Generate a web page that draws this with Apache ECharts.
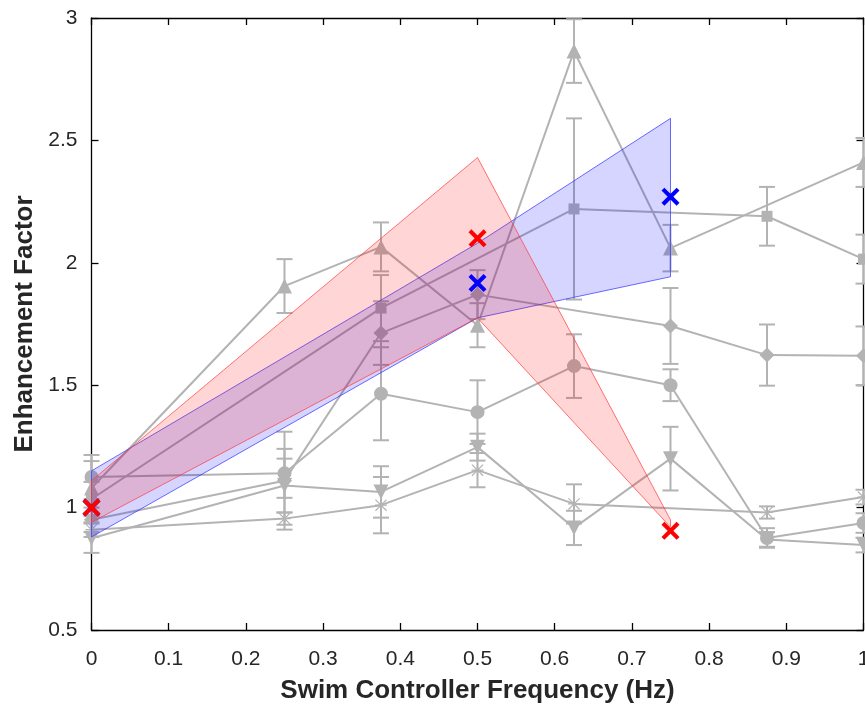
<!DOCTYPE html>
<html>
<head>
<meta charset="utf-8">
<script src="https://cdn.jsdelivr.net/npm/echarts@6/dist/echarts.min.js"></script>
<style>
html,body{margin:0;padding:0;background:#fff;}
#chart{width:865px;height:709px;}
</style>
</head>
<body>
<div id="chart"></div>
<script>
// ---- data ----
var xTicks = [0, 0.1, 0.2, 0.3, 0.4, 0.5, 0.6, 0.7, 0.8, 0.9, 1];
var yTicks = [0.5, 1, 1.5, 2, 2.5, 3];

var circleX = [0, 0.25, 0.375, 0.5, 0.625, 0.75, 0.875, 1];
var circleY = [1.125, 1.14, 1.465, 1.39, 1.578, 1.50, 0.876, 0.937];
var circleE = [0.09, 0.1, 0.19, 0.13, 0.13, 0.065, 0.04, 0.04];

var squareX = [0, 0.375, 0.625, 0.875, 1];
var squareY = [1.035, 1.815, 2.22, 2.19, 2.015];
var squareE = [0.07, 0.135, 0.37, 0.12, 0.1];

var diamondX = [0, 0.25, 0.375, 0.5, 0.75, 0.875, 1];
var diamondY = [0.95, 1.11, 1.713, 1.87, 1.742, 1.623, 1.62];
var diamondE = [0.05, 0.2, 0.13, 0.1, 0.155, 0.125, 0.12];

var triUpX = [0, 0.25, 0.375, 0.5, 0.625, 0.75, 1];
var triUpY = [1.08, 1.905, 2.065, 1.745, 2.865, 2.06, 2.41];
var triUpE = [0.11, 0.11, 0.1, 0.09, 0.13, 0.095, 0.1];

var triDownX = [0, 0.25, 0.375, 0.5, 0.625, 0.75, 0.875, 1];
var triDownY = [0.875, 1.09, 1.064, 1.247, 0.917, 1.20, 0.87, 0.847];
var triDownE = [0.06, 0.11, 0.105, 0.055, 0.07, 0.13, 0.03, 0.03];

var starX = [0, 0.25, 0.375, 0.5, 0.625, 0.875, 1];
var starY = [0.91, 0.955, 1.01, 1.153, 1.015, 0.98, 1.043];
var starE = [0.03, 0.025, 0.115, 0.07, 0.08, 0.025, 0.03];

var bandX = [0, 0.5, 0.75];
var redUpper = [1.11, 2.43, 0.95];
var redLower = [0.94, 1.775, 0.92];
var blueUpper = [1.15, 2.08, 2.59];
var blueLower = [0.88, 1.775, 1.943];

var redMarkX = [0, 0.5, 0.75];
var redMarkY = [1.0, 2.1, 0.905];
var blueMarkX = [0, 0.5, 0.75];
var blueMarkY = [1.0, 1.917, 2.27];

// ---- styling ----
var GRAY = '#b3b3b3';
var TXT = '#262626';
var FONT = 'Liberation Sans, Arial, sans-serif';
var ASTER = 'path://M9 0L11 0L11 20L9 20Z M0 9L20 9L20 11L0 11Z M1.4 0L20 18.6L18.6 20L0 1.4Z M18.6 0L20 1.4L1.4 20L0 18.6Z';
var XMARK = 'path://M0 1.6L1.6 0L10 8.4L8.4 10Z M8.4 0L10 1.6L1.6 10L0 8.4Z';

function pairs(xs, ys) { return xs.map(function (x, i) { return [x, ys[i]]; }); }
function triples(xs, ys, es) { return xs.map(function (x, i) { return [x, ys[i], es[i]]; }); }

function lineSeries(xs, ys, symbol, size, rotate) {
  return {
    type: 'line', data: pairs(xs, ys), symbol: symbol, symbolSize: size,
    symbolRotate: rotate || 0, showSymbol: true, z: 2,
    lineStyle: { color: GRAY, width: 2 },
    itemStyle: { color: GRAY, borderWidth: 0 },
    emphasis: { disabled: true }
  };
}

function errSeries(xs, ys, es) {
  return {
    type: 'custom', z: 2, data: triples(xs, ys, es),
    encode: { x: 0, y: 1 },
    renderItem: function (params, api) {
      var x = api.value(0), y = api.value(1), e = api.value(2);
      var top = api.coord([x, y + e]);
      var bot = api.coord([x, y - e]);
      var hw = 8;
      var st = { stroke: GRAY, lineWidth: 2 };
      return {
        type: 'group', children: [
          { type: 'line', shape: { x1: top[0], y1: top[1], x2: bot[0], y2: bot[1] }, style: st },
          { type: 'line', shape: { x1: top[0] - hw, y1: top[1], x2: top[0] + hw, y2: top[1] }, style: st },
          { type: 'line', shape: { x1: bot[0] - hw, y1: bot[1], x2: bot[0] + hw, y2: bot[1] }, style: st }
        ]
      };
    }
  };
}

function bandSeries(xs, lo, hi, fill, stroke, z) {
  return {
    type: 'custom', z: z,
    data: xs.map(function (x, i) { return [x, lo[i], hi[i]]; }),
    encode: { x: 0, y: [1, 2] },
    renderItem: function (params, api) {
      if (params.dataIndex !== 0) return null;
      var pts = [];
      for (var i = 0; i < xs.length; i++) pts.push(api.coord([xs[i], hi[i]]));
      for (var j = xs.length - 1; j >= 0; j--) pts.push(api.coord([xs[j], lo[j]]));
      return {
        type: 'polygon', shape: { points: pts },
        style: { fill: fill, stroke: stroke, lineWidth: 1 }
      };
    }
  };
}

function markSeries(xs, ys, color) {
  return {
    type: 'scatter', data: pairs(xs, ys), symbol: XMARK, symbolSize: 18, z: 10,
    itemStyle: { color: color, opacity: 1 }, emphasis: { disabled: true }
  };
}

var chart = echarts.init(document.getElementById('chart'), null, { renderer: 'canvas' });

var axisCommon = {
  axisLine: { show: true, onZero: false, lineStyle: { color: '#000', width: 1.3 } },
  axisTick: { show: true, inside: true, length: 7, lineStyle: { color: '#000', width: 1.3 } },
  splitLine: { show: false }
};

chart.setOption({
  animation: false,
  backgroundColor: '#fff',
  grid: { left: 91.5, right: 1.5, top: 18, bottom: 79, containLabel: false, outerBoundsMode: 'none' },
  xAxis: [
    Object.assign({
      type: 'value', min: 0, max: 1, interval: 0.1, position: 'bottom',
      name: 'Swim Controller Frequency (Hz)', nameLocation: 'middle', nameGap: 48,
      nameTextStyle: { fontFamily: FONT, fontSize: 26, fontWeight: 'bold', color: TXT },
      axisLabel: { show: true, margin: 19, fontFamily: FONT, fontSize: 21, color: TXT,
        formatter: function (v) { return String(Math.round(v * 10) / 10); } }
    }, axisCommon),
    Object.assign({
      type: 'value', min: 0, max: 1, interval: 0.1, position: 'top',
      axisLabel: { show: false }
    }, axisCommon)
  ],
  yAxis: [
    Object.assign({
      type: 'value', min: 0.5, max: 3, interval: 0.5, position: 'left',
      name: 'Enhancement Factor', nameLocation: 'middle', nameGap: 54,
      nameTextStyle: { fontFamily: FONT, fontSize: 26, fontWeight: 'bold', color: TXT },
      axisLabel: { show: true, margin: 14, fontFamily: FONT, fontSize: 21, color: TXT,
        formatter: function (v) { return String(Math.round(v * 10) / 10); } }
    }, axisCommon),
    Object.assign({
      type: 'value', min: 0.5, max: 3, interval: 0.5, position: 'right',
      axisLabel: { show: false }
    }, axisCommon)
  ],
  series: [
    lineSeries(circleX, circleY, 'circle', 14),
    errSeries(circleX, circleY, circleE),
    lineSeries(squareX, squareY, 'rect', 11),
    errSeries(squareX, squareY, squareE),
    lineSeries(diamondX, diamondY, 'diamond', 15),
    errSeries(diamondX, diamondY, diamondE),
    lineSeries(triUpX, triUpY, 'triangle', 15),
    errSeries(triUpX, triUpY, triUpE),
    lineSeries(triDownX, triDownY, 'triangle', 15, 180),
    errSeries(triDownX, triDownY, triDownE),
    lineSeries(starX, starY, ASTER, 12),
    errSeries(starX, starY, starE),
    bandSeries(bandX, blueLower, blueUpper, 'rgba(0,0,255,0.165)', 'rgba(60,60,255,0.75)', 5),
    bandSeries(bandX, redLower, redUpper, 'rgba(255,0,0,0.165)', 'rgba(255,60,60,0.7)', 6),
    markSeries(blueMarkX, blueMarkY, '#0000ff'),
    markSeries(redMarkX, redMarkY, '#ff0000')
  ]
});
</script>
</body>
</html>
